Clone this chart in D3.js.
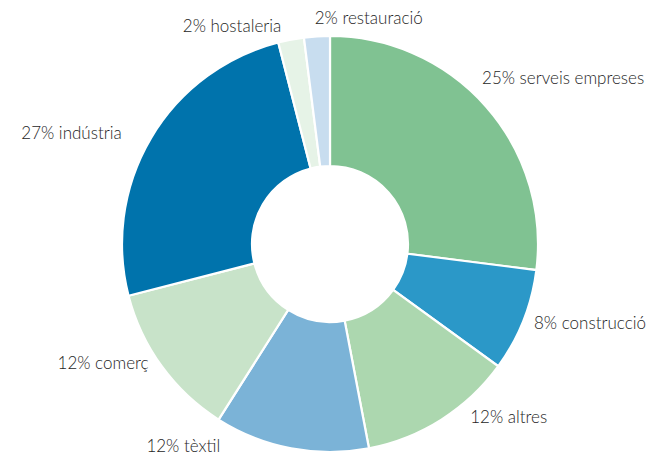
<!DOCTYPE html>
<html>
<head>
<meta charset="utf-8">
<script src="https://cdn.jsdelivr.net/npm/d3@7"></script>
<style>
  body { margin: 0; background: #fff; }
  .label { font-family: Lato, "Open Sans", sans-serif; font-size: 17px; font-weight: 300; fill: #1e1e1e; }
</style>
</head>
<body>
<script>
// sectors, clockwise from 12 o'clock
var sectors = ["serveis empreses", "construcció", "altres", "tèxtil", "comerç", "indústria", "hostaleria", "restauració"];
// slice sizes as drawn in the picture
var values = [27, 8, 12, 12, 12, 25, 2, 2];
// the percentages printed in the labels
var labelPct = ["25%", "8%", "12%", "12%", "12%", "27%", "2%", "2%"];
var colors = ["#80c292", "#2b98c8", "#acd7af", "#7bb3d7", "#c8e3c9", "#0073ac", "#e6f3e7", "#c8ddef"];

// label placement: anchor and nudge from the label arc
var labelLayout = [
    {anchor: "start", dx: -19, dy: -15},
    {anchor: "start", dx: -8, dy: -4},
    {anchor: "start", dx: 18, dy: -19},
    {anchor: "middle", dx: -104, dy: -21},
    {anchor: "end", dx: 3, dy: -14},
    {anchor: "end", dx: -12, dy: 6},
    {anchor: "end", dx: -6, dy: 7},
    {anchor: "start", dx: -1, dy: 2}
];

var width = 652, height = 452;
var cx = 330, cy = 244;
var outerR = 208, innerR = 78, labelR = 228;

var svg = d3.select("body").append("svg")
    .attr("width", width)
    .attr("height", height);

var g = svg.append("g")
    .attr("transform", "translate(" + cx + "," + cy + ")");

var data = sectors.map(function (d, i) {
    return {name: d, value: values[i], pct: labelPct[i], color: colors[i], layout: labelLayout[i]};
});

var pie = d3.pie()
    .sort(null)
    .value(function (d) { return d.value; });

var arc = d3.arc()
    .innerRadius(innerR)
    .outerRadius(outerR);

var arcs = pie(data);

g.selectAll(".slice")
    .data(arcs)
    .enter().append("path")
    .attr("class", "slice")
    .attr("d", arc)
    .attr("fill", function (d) { return d.data.color; })
    .attr("stroke", "#fff")
    .attr("stroke-width", 2.2);

g.selectAll(".label")
    .data(arcs)
    .enter().append("text")
    .attr("class", "label")
    .attr("x", function (d) {
        var a = (d.startAngle + d.endAngle) / 2;
        return labelR * Math.sin(a) + d.data.layout.dx;
    })
    .attr("y", function (d) {
        var a = (d.startAngle + d.endAngle) / 2;
        return -labelR * Math.cos(a) + d.data.layout.dy;
    })
    .attr("dy", "0.32em")
    .attr("text-anchor", function (d) { return d.data.layout.anchor; })
    .text(function (d) { return d.data.pct + " " + d.data.name; });
</script>
</body>
</html>
